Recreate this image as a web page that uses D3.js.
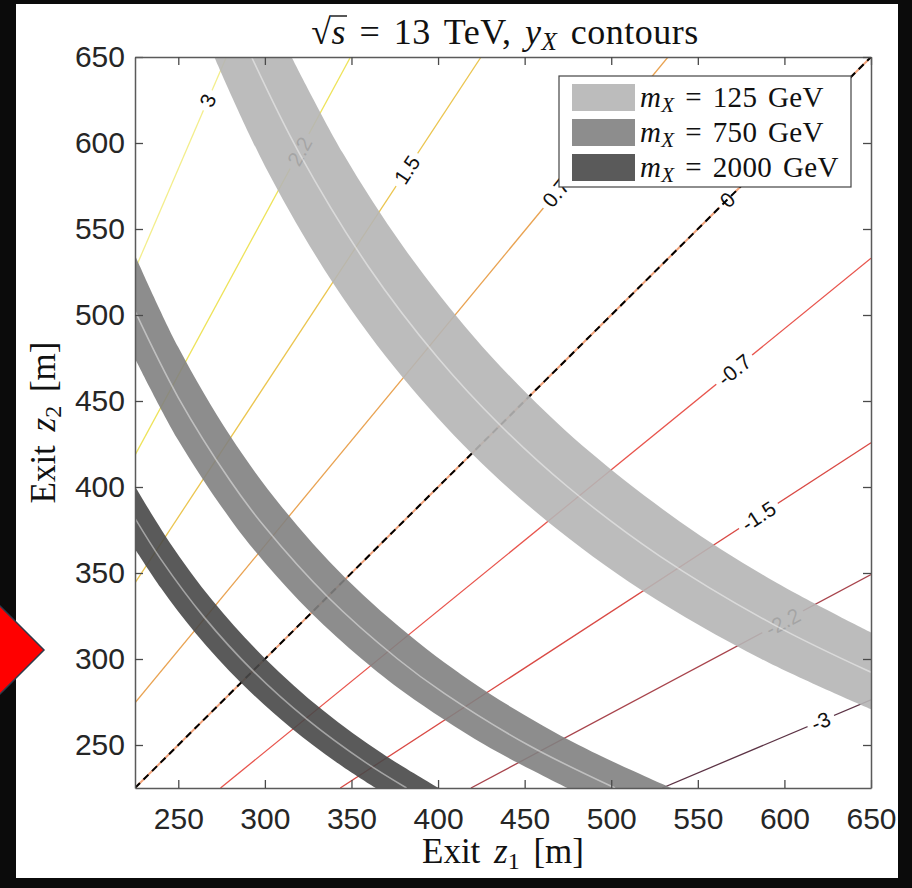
<!DOCTYPE html>
<html>
<head>
<meta charset="utf-8">
<title>y_X contours</title>
<script src="https://cdn.jsdelivr.net/npm/d3@7"></script>
<style>
  body { margin: 0; background: #0b0b0b; }
  svg { display: block; }
</style>
</head>
<body>
<script>

var w = 912;
var h = 888;
var serif = "'Liberation Serif', 'Times New Roman', serif";
var sans = "'Liberation Sans', Arial, Helvetica, sans-serif";

// tick values on both axes
var xTicks = [250, 300, 350, 400, 450, 500, 550, 600, 650];
var yTicks = [250, 300, 350, 400, 450, 500, 550, 600, 650];

// y_X contour levels, the z2/z1 slope of each line,
// and the z1 where each inline label sits
var contourLevels = [3, 2.2, 1.5, 0.7, 0, -0.7, -1.5, -2.2, -3];
var contourRatios = [2.34, 1.86, 1.53, 1.22, 1.0, 0.82, 0.655, 0.537, 0.425];
var contourLabelZ1 = [267, 320, 382, 468, 567, 571, 585, 599, 621];

// mass bands, [z1, z2] points along the lower edge, centre line and upper edge
var masses = [125, 750, 2000];

var band125Lower = [[270.8, 650], [300, 586.7], [340, 517.6], [380, 463.2], [419.5, 419.5], [463.2, 380], [517.6, 340], [586.7, 300], [650, 270.8]];
var band125Mid = [[292.3, 650], [320, 593.8], [360, 527.8], [400, 475], [435.9, 435.9], [475, 400], [527.8, 360], [593.8, 320], [650, 292.3]];
var band125Upper = [[315.4, 650], [345, 594.2], [380, 539.5], [420, 488.1], [452.8, 452.8], [488.1, 420], [539.5, 380], [594.2, 345], [650, 315.4]];

var band750Lower = [[225, 474.7], [250, 427.2], [280, 381.4], [300, 356], [326.8, 326.8], [356, 300], [381.4, 280], [427.2, 250], [474.7, 225]];
var band750Mid = [[225, 502.2], [250, 452], [280, 403.6], [300, 376.7], [336.2, 336.2], [376.7, 300], [403.6, 280], [452, 250], [502.2, 225]];
var band750Upper = [[225, 534.7], [250, 481.2], [280, 429.6], [310, 388.1], [346.8, 346.8], [388.1, 310], [429.6, 280], [481.2, 250], [534.7, 225]];

var band2000Lower = [[225, 364], [240, 341.3], [260, 315], [286.2, 286.2], [315, 260], [341.3, 240], [364, 225]];
var band2000Mid = [[225, 381.8], [240, 357.9], [265, 324.2], [293.1, 293.1], [324.2, 265], [357.9, 240], [381.8, 225]];
var band2000Upper = [[225, 400.4], [245, 367.8], [270, 333.7], [300.2, 300.2], [333.7, 270], [367.8, 245], [400.4, 225]];

var bands = [
  { mass: 125, lower: band125Lower, mid: band125Mid, upper: band125Upper },
  { mass: 750, lower: band750Lower, mid: band750Mid, upper: band750Upper },
  { mass: 2000, lower: band2000Lower, mid: band2000Mid, upper: band2000Upper }
];

// colours
var contourColor = d3.scaleOrdinal()
  .domain(contourLevels)
  .range(["#f3ee8c", "#eee35a", "#ebc54f", "#e9a352", "#f0a27a", "#e8544c", "#d94a45", "#a8444c", "#5c3345"]);
var bandColor = d3.scaleOrdinal()
  .domain(masses)
  .range(["#b5b5b5", "#818181", "#484848"]);

// scales
var x = d3.scaleLinear().domain([225, 650]).range([135, 871]);
var y = d3.scaleLinear().domain([225, 650]).range([788, 57]);

var svg = d3.select("body")
  .append("svg")
  .attr("width", w)
  .attr("height", h);

// black frame with white page
svg.append("rect").attr("width", w).attr("height", h).attr("fill", "#0b0b0b");
svg.append("rect")
  .attr("x", 16).attr("y", 4)
  .attr("width", 882).attr("height", 874)
  .attr("fill", "#ffffff");

// red pointer on the left edge
svg.append("polygon")
  .attr("points", "-2,604 44,650 -2,696")
  .attr("fill", "#ff0000")
  .attr("stroke", "#2f3b4b")
  .attr("stroke-width", 1.5);

svg.append("clipPath").attr("id", "plotclip")
  .append("rect")
  .attr("x", x(225)).attr("y", y(650))
  .attr("width", x(650) - x(225)).attr("height", y(225) - y(650));

var plot = svg.append("g").attr("clip-path", "url(#plotclip)");

// contour lines z2 = r * z1, clipped to the box
contourLevels.forEach(function(lev, i) {
  var r = contourRatios[i];
  var a = Math.max(225, 225 / r);
  var b = Math.min(650, 650 / r);
  plot.append("line")
    .attr("x1", x(a)).attr("y1", y(a * r))
    .attr("x2", x(b)).attr("y2", y(b * r))
    .attr("stroke", contourColor(lev))
    .attr("stroke-width", lev === 0 ? 2 : 1.3);
});

// inline contour labels
contourLevels.forEach(function(lev, i) {
  var r = contourRatios[i];
  var z1 = contourLabelZ1[i];
  var ang = Math.atan2(y(r * 100) - y(0), x(100) - x(0)) * 180 / Math.PI;
  var g = plot.append("g")
    .attr("transform", "translate(" + x(z1) + "," + y(z1 * r) + ") rotate(" + ang + ")");
  var bg = g.append("rect");
  var t = g.append("text")
    .attr("text-anchor", "middle")
    .attr("dy", "0.36em")
    .style("font-family", sans)
    .style("font-size", "21px")
    .style("fill", "#111")
    .text(lev);
  var tw = t.node().getComputedTextLength();
  bg.attr("x", -tw / 2 - 5).attr("y", -11)
    .attr("width", tw + 10).attr("height", 22)
    .attr("fill", "#fff");
});

// the y_X = 0 line gets a black dashed overlay
plot.append("line")
  .attr("x1", x(225)).attr("y1", y(225))
  .attr("x2", x(650)).attr("y2", y(650))
  .attr("stroke", "#000")
  .attr("stroke-width", 2)
  .attr("stroke-dasharray", "7,5");

// mass bands
var line = d3.line()
  .x(function(d) { return x(d[0]); })
  .y(function(d) { return y(d[1]); })
  .curve(d3.curveCatmullRom);

bands.forEach(function(b) {
  var top = line(b.upper);
  var bottom = line(b.lower.slice().reverse());
  plot.append("path")
    .attr("d", top + "L" + bottom.slice(1) + "Z")
    .attr("fill", bandColor(b.mass))
    .attr("fill-opacity", 0.9);
  plot.append("path")
    .attr("d", line(b.mid))
    .attr("fill", "none")
    .attr("stroke", "#fff")
    .attr("stroke-opacity", 0.45)
    .attr("stroke-width", 1.6);
});

// axes: labelled on bottom/left, ticks only on top/right, ticks pointing in
function styleAxis(g) {
  g.select(".domain").attr("stroke", "#5a5a5a").attr("stroke-width", 1.5);
  g.selectAll(".tick line").attr("stroke", "#4a4a4a").attr("stroke-width", 1.3);
  g.selectAll(".tick text")
    .style("font-family", sans)
    .style("font-size", "30px")
    .style("fill", "#262626");
}

svg.append("g")
  .attr("transform", "translate(0," + y(225) + ")")
  .call(d3.axisBottom(x).tickValues(xTicks).tickSizeInner(-8).tickSizeOuter(0).tickPadding(20))
  .call(styleAxis);
svg.append("g")
  .attr("transform", "translate(" + x(225) + ",0)")
  .call(d3.axisLeft(y).tickValues(yTicks).tickSizeInner(-8).tickSizeOuter(0).tickPadding(10))
  .call(styleAxis);
svg.append("g")
  .attr("transform", "translate(0," + y(650) + ")")
  .call(d3.axisTop(x).tickValues(xTicks).tickSizeInner(-8).tickSizeOuter(0).tickFormat(""))
  .call(styleAxis);
svg.append("g")
  .attr("transform", "translate(" + x(650) + ",0)")
  .call(d3.axisRight(y).tickValues(yTicks).tickSizeInner(-8).tickSizeOuter(0).tickFormat(""))
  .call(styleAxis);

// legend
var legend = svg.append("g").attr("transform", "translate(559,76)");
legend.append("rect")
  .attr("width", 292).attr("height", 111)
  .attr("fill", "#fff")
  .attr("stroke", "#444")
  .attr("stroke-width", 1.2);

masses.forEach(function(m, i) {
  var row = legend.append("g").attr("transform", "translate(0," + (8 + i * 35) + ")");
  row.append("rect")
    .attr("x", 13).attr("width", 63).attr("height", 27)
    .attr("fill", bandColor(m))
    .attr("fill-opacity", 0.9);
  var t = row.append("text")
    .attr("x", 81).attr("y", 23)
    .style("font-family", serif)
    .style("font-size", "29px")
    .style("fill", "#111")
    .style("word-spacing", "3px")
    .style("letter-spacing", "0.4px");
  t.append("tspan").style("font-style", "italic").text("m");
  t.append("tspan").style("font-style", "italic").style("font-size", "21px").attr("dy", 5).text("X");
  t.append("tspan").attr("dy", -5).text(" = " + m + " GeV");
});

// title
var title = svg.append("text")
  .attr("x", 505).attr("y", 44)
  .attr("text-anchor", "middle")
  .style("font-family", serif)
  .style("font-size", "36px")
  .style("fill", "#111")
  .style("word-spacing", "4px")
  .style("letter-spacing", "0.5px");
title.append("tspan").text("\u221A");
title.append("tspan").style("font-style", "italic").text("s");
title.append("tspan").text(" = 13 TeV, ");
title.append("tspan").style("font-style", "italic").text("y");
title.append("tspan").style("font-style", "italic").style("font-size", "25px").attr("dy", 6).text("X");
title.append("tspan").attr("dy", -6).text(" contours");

var sBox = title.node().getExtentOfChar(1);
svg.append("line")
  .attr("x1", sBox.x - 1).attr("x2", sBox.x + sBox.width + 1)
  .attr("y1", 44 - 28).attr("y2", 44 - 28)
  .attr("stroke", "#111").attr("stroke-width", 1.4);

// axis labels
var xl = svg.append("text")
  .attr("x", 503).attr("y", 863)
  .attr("text-anchor", "middle")
  .style("font-family", serif)
  .style("font-size", "35px")
  .style("fill", "#111")
  .style("word-spacing", "5px");
xl.append("tspan").text("Exit ");
xl.append("tspan").style("font-style", "italic").text("z");
xl.append("tspan").style("font-size", "24px").attr("dy", 6).text("1");
xl.append("tspan").attr("dy", -6).text(" [m]");

var yl = svg.append("text")
  .attr("transform", "translate(55," + ((y(225) + y(650)) / 2) + ") rotate(-90)")
  .attr("text-anchor", "middle")
  .style("font-family", serif)
  .style("font-size", "35px")
  .style("fill", "#111")
  .style("word-spacing", "5px");
yl.append("tspan").text("Exit ");
yl.append("tspan").style("font-style", "italic").text("z");
yl.append("tspan").style("font-size", "24px").attr("dy", 6).text("2");
yl.append("tspan").attr("dy", -6).text(" [m]");

</script>
</body>
</html>
